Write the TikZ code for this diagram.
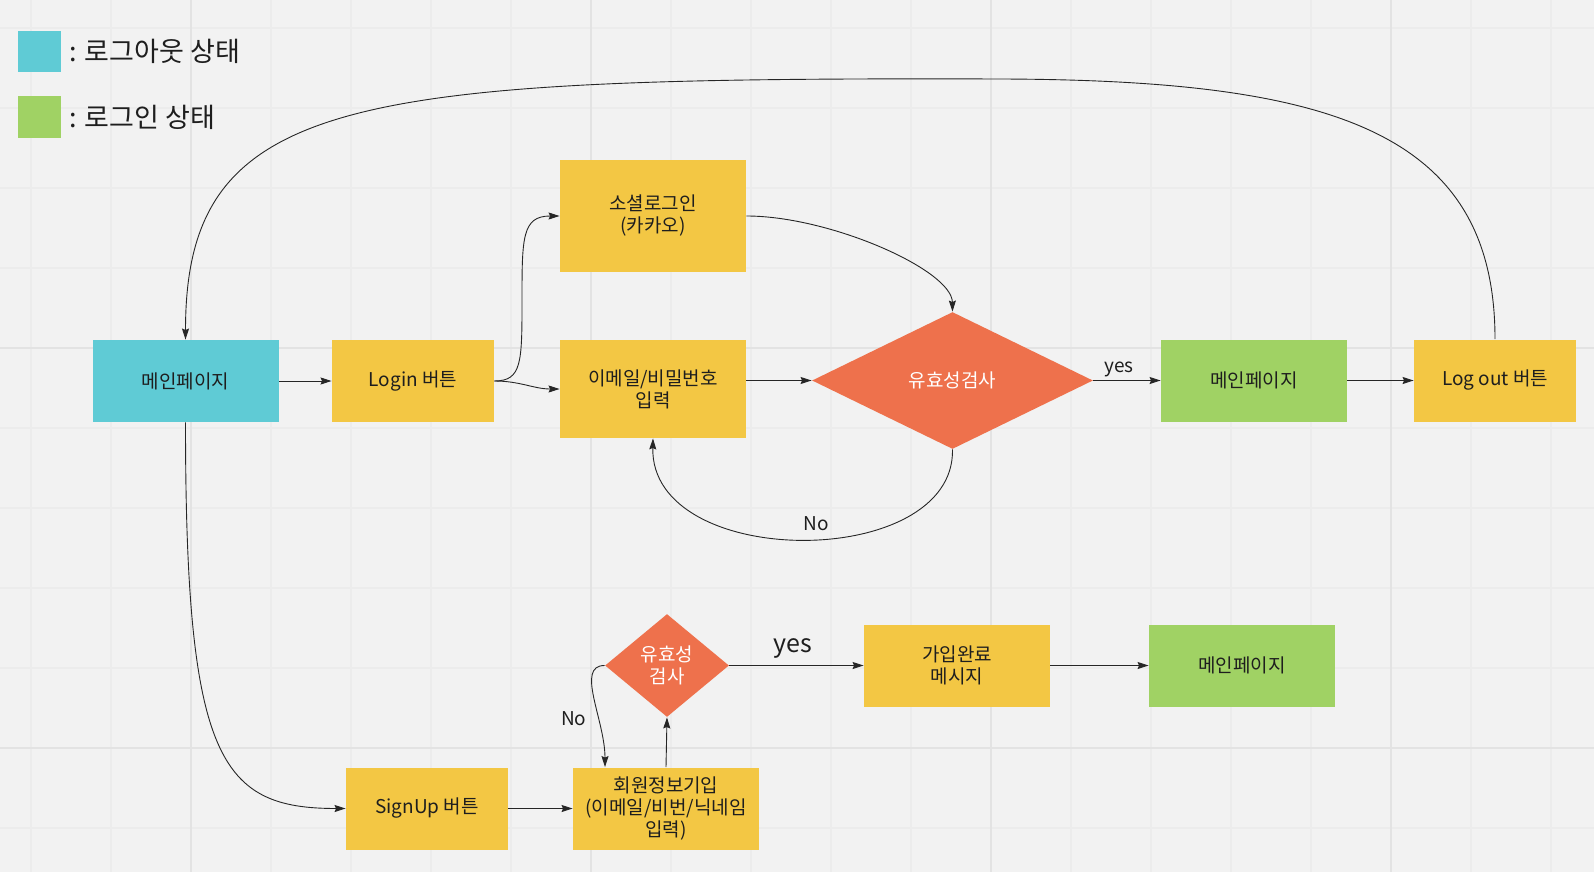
\documentclass[tikz,border=0pt]{standalone}
\usepackage{fontspec}
\setmainfont{Noto Sans CJK KR}
\usetikzlibrary{shapes.geometric,arrows.meta,positioning}

\definecolor{outcol}{HTML}{5FCBD5}
\definecolor{incol}{HTML}{A0D264}
\definecolor{stepcol}{HTML}{F3C744}
\definecolor{checkcol}{HTML}{EE714C}
\definecolor{bgcol}{HTML}{F2F2F2}
\definecolor{gridcol}{HTML}{ECECEC}
\definecolor{gridmajor}{HTML}{E3E3E3}
\definecolor{linecol}{HTML}{262626}
\definecolor{textcol}{HTML}{1E1E1E}

\begin{document}
\begin{tikzpicture}[
        x=1pt, y=-1pt,
        -{Stealth[length=11pt,width=7pt,inset=1.5pt]},
        line width=0.9pt,
        draw=linecol,
        every node/.style={font=\fontsize{19pt}{22pt}\selectfont, text=textcol},
        box/.style={rectangle, inner sep=0pt, minimum width=186pt, minimum height=82pt, align=center},
        loggedout/.style={box, fill=outcol},
        loggedin/.style={box, fill=incol},
        action/.style={box, fill=stepcol},
        check/.style={diamond, inner sep=0pt, fill=checkcol, text=white, align=center},
        keybox/.style={rectangle, inner sep=0pt, minimum width=43pt, minimum height=41pt},
        keytext/.style={font=\fontsize{27pt}{30pt}\selectfont, text=textcol},
        gridline/.style={-, draw=gridcol, line width=1.2pt},
        gridbold/.style={-, draw=gridmajor, line width=1.8pt},
    ]
    \useasboundingbox (0,0) rectangle (1594,872);
    \fill[bgcol] (0,0) rectangle (1594,872);
    % grid
    \foreach \gx in {31,111,...,1551} \draw[gridline] (\gx,0) -- (\gx,872);
    \foreach \gy in {28,108,...,828} \draw[gridline] (0,\gy) -- (1594,\gy);
    \foreach \gx in {191,591,991,1391} \draw[gridbold] (\gx,0) -- (\gx,872);
    \foreach \gy in {348,748} \draw[gridbold] (0,\gy) -- (1594,\gy);

    % legend
    \node[keybox, fill=outcol] (keyout) at (39.5,51.5) {};
    \node[keytext, right=4pt of keyout] {: 로그아웃 상태};
    \node[keybox, fill=incol] (keyin) at (39.5,117) {};
    \node[keytext, right=4pt of keyin] {: 로그인 상태};

    % login flow
    \node[loggedout] (mainout) at (185.5,381) {메인페이지};
    \node[action, minimum width=162pt] (login) at (413,381) {Login 버튼};
    \node[action, minimum height=112pt] (social) at (653,216) {소셜로그인\\(카카오)};
    \node[action, minimum height=98pt] (email) at (653,389) {이메일/비밀번호\\입력};
    \node[check, minimum width=281pt, minimum height=137pt] (valid) at (952.5,380.5) {유효성검사};
    \node[loggedin] (mainin) at (1254,380.5) {메인페이지};
    \node[action, minimum width=162pt] (logout) at (1495,380.5) {Log out 버튼};

    % signup flow
    \node[action, minimum width=162pt] (signup) at (427,808.5) {SignUp 버튼};
    \node[action] (joinform) at (666,808.5) {회원정보기입\\(이메일/비번/닉네임\\입력)};
    \node[check, minimum width=124pt, minimum height=103pt] (joincheck) at (667,665.5) {유효성\\검사};
    \node[action] (joindone) at (957,665.5) {가입완료\\메시지};
    \node[loggedin] (mainjoin) at (1242,665.5) {메인페이지};

    \path (mainout) edge (login);
    \path (login.east) edge[out=0, in=180] (email.west);
    \draw (login.east) .. controls (522,381) and (522,362) .. (522,300)
        .. controls (522,238) and (522,216) .. (social.west);
    \draw (social.east) .. controls (830,216) and (952,270) .. (valid.north);
    \path (email.east |- valid) edge (valid);
    \path (valid) edge node[pos=.38, above] {yes} (mainin);
    \draw (valid.south) .. controls (955,571) and (650,571) .. (email.south)
        node[pos=.47, above=5pt] {No};
    \path (mainin) edge (logout);
    \draw (logout.north) .. controls (1495,130) and (1330,80) .. (1000,79)
        .. controls (350,77) and (185.5,95) .. (mainout.north);

    \draw (mainout.south) .. controls (185.5,760) and (220,808.5) .. (signup.west);
    \path (signup) edge (joinform);
    \path (joinform.north) edge (joincheck.south);
    \draw (joincheck.west) .. controls (575,665.5) and (605,720) .. ([xshift=-61pt]joinform.north)
        node[pos=.66, left=8pt] {No};
    \path (joincheck) edge node[pos=.47, above=3pt, font=\fontsize{25pt}{28pt}\selectfont] {yes} (joindone);
    \path (joindone) edge (mainjoin);

\end{tikzpicture}
\end{document}
